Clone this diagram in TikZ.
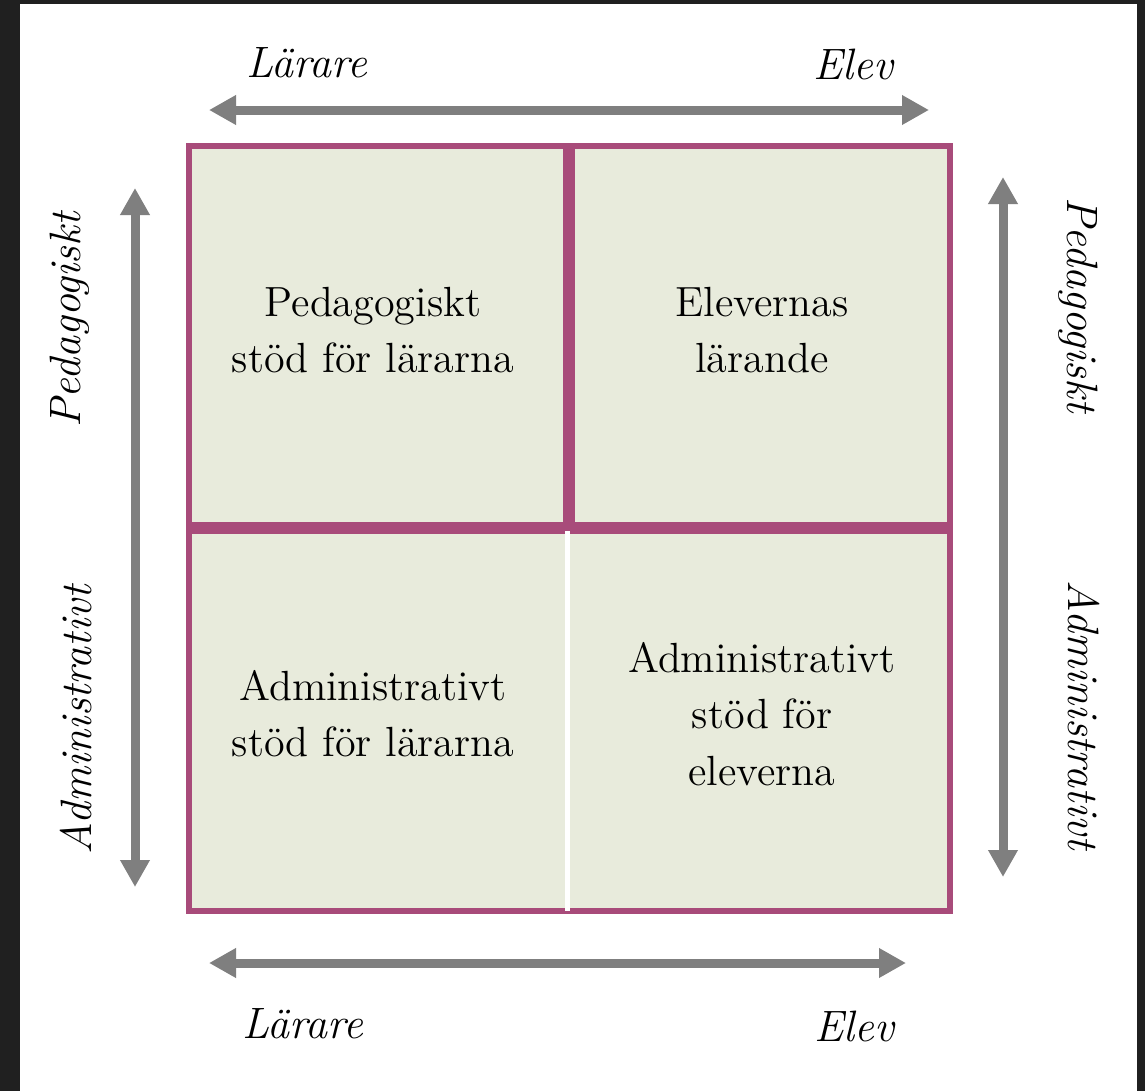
\documentclass[tikz,border=0pt]{standalone}
\usepackage{xcolor}
\usepackage{tikz}
\usetikzlibrary{arrows.meta, positioning}

\definecolor{framegray}{HTML}{202020}
\definecolor{boxpurple}{HTML}{A84B7A}
\definecolor{boxfill}{HTML}{E8EBDC}
\definecolor{axisgray}{HTML}{7F7F7F}

\tikzset{
    cell/.style={draw=boxpurple, fill=boxfill, line width=0.06cm, rectangle, align=center,
        font=\fontsize{12}{16}\selectfont},
    celltext/.style={align=center, font=\fontsize{12}{16}\selectfont},
    axis/.style={axisgray, line width=0.09cm,
        {Triangle[length=0.27cm,width=0.28cm]}-{Triangle[length=0.27cm,width=0.28cm]}},
    axislabel/.style={font=\fontsize{12.5}{15}\selectfont\itshape, anchor=base, inner sep=0pt}
}

\begin{document}
\begin{tikzpicture}
        % screenshot frame
        \fill[framegray] (0,0) rectangle (11.45,-10.91);
        \fill[white] (0.20,-0.04) rectangle (11.37,-10.91);
        \useasboundingbox (0,0) rectangle (11.45,-10.91);

        % the four fields
        \node[cell, minimum width=3.77cm, minimum height=3.79cm] (Ped) at (3.775,-3.355) {};
        \node[cell, minimum width=3.78cm, minimum height=3.79cm] (Elev) at (7.61,-3.355) {};
        \node[cell, minimum width=7.61cm, minimum height=3.80cm] (Adm) at (5.695,-7.21) {};
        \draw[white, line width=0.05cm, shorten <=0.03cm, shorten >=0.03cm]
            ([xshift=-0.025cm]Adm.north) -- ([xshift=-0.025cm]Adm.south);

        \node[celltext] (PedText) at (3.73,-3.30) {Pedagogiskt\\stöd för lärarna};
        \node[celltext] (ElevText) at (7.62,-3.30) {Elevernas\\lärande};
        \node[celltext] (AdmLText) at (3.73,-7.14) {Administrativt\\stöd för lärarna};
        \node[celltext] (AdmEText) at (7.62,-7.14) {Administrativt\\stöd för\\eleverna};

        % axes
        \coordinate (TopL) at (2.09,-1.10);
        \coordinate (TopR) at (9.29,-1.10);
        \coordinate (BotL) at (2.09,-9.63);
        \coordinate (BotR) at (9.06,-9.63);
        \coordinate (LeftT) at (1.35,-1.88);
        \coordinate (LeftB) at (1.35,-8.87);
        \coordinate (RightT) at (10.03,-1.77);
        \coordinate (RightB) at (10.03,-8.77);
        \draw[axis] (TopL) -- (TopR);
        \draw[axis] (BotL) -- (BotR);
        \draw[axis] (LeftT) -- (LeftB);
        \draw[axis] (RightT) -- (RightB);

        % axis labels
        \node[axislabel] (LarareTop) at (3.07,-0.77) {Lärare};
        \node[axislabel] (ElevTop) at (8.53,-0.79) {Elev};
        \node[axislabel] (LarareBot) at (3.03,-10.38) {Lärare};
        \node[axislabel] (ElevBot) at (8.54,-10.41) {Elev};
        \node[axislabel, rotate=90] (PedLeft) at (0.80,-3.20) {Pedagogiskt};
        \node[axislabel, rotate=90] (AdmLeft) at (0.91,-7.20) {Administrativt};
        \node[axislabel, rotate=-90] (PedRight) at (10.67,-3.05) {Pedagogiskt};
        \node[axislabel, rotate=-90] (AdmRight) at (10.68,-7.15) {Administrativt};
    \end{tikzpicture}
\end{document}
